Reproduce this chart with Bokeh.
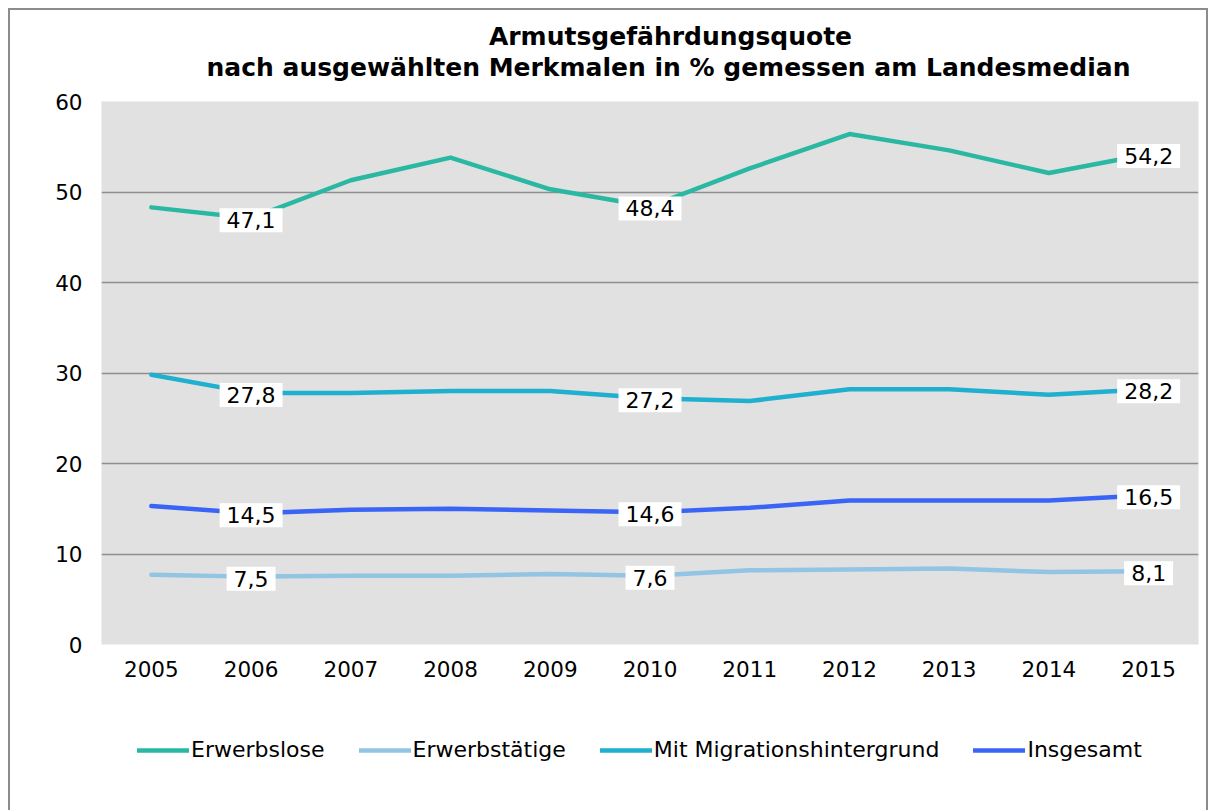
from bokeh.plotting import figure
from bokeh.layouts import column
from bokeh.models import Range1d, FixedTicker, Label, Legend, LegendItem
from bokeh.embed import file_html
from bokeh.resources import INLINE

years = [2005, 2006, 2007, 2008, 2009, 2010, 2011, 2012, 2013, 2014, 2015]
erwerbslose = [48.3, 47.1, 51.3, 53.8, 50.3, 48.4, 52.6, 56.4, 54.6, 52.1, 54.2]
erwerbstaetige = [7.7, 7.5, 7.6, 7.6, 7.8, 7.6, 8.2, 8.3, 8.4, 8.0, 8.1]
migration = [29.8, 27.8, 27.8, 28.0, 28.0, 27.2, 26.9, 28.2, 28.2, 27.6, 28.2]
insgesamt = [15.3, 14.5, 14.9, 15.0, 14.8, 14.6, 15.1, 15.9, 15.9, 15.9, 16.5]
labeled_years = [2006, 2010, 2015]
y_ticks = [0, 10, 20, 30, 40, 50, 60]
title_lines = ["Armutsgefährdungsquote", "nach ausgewählten Merkmalen in % gemessen am Landesmedian"]

series = [
    ("Erwerbslose", erwerbslose, "#2bb8a3"),
    ("Erwerbstätige", erwerbstaetige, "#92c4e4"),
    ("Mit Migrationshintergrund", migration, "#1fafcf"),
    ("Insgesamt", insgesamt, "#3a64f5"),
]

FONT = "DejaVu Sans"
W = 1196
BL, BR = 91, 8   # shared left/right borders so every strip has the same frame


def strip(height):
    # frame spans page x 101..1198; x range expressed in page pixels
    f = figure(width=W, height=height, output_backend="svg", toolbar_location=None,
               x_range=Range1d(101, 1198), y_range=Range1d(0, height),
               x_axis_location=None, y_axis_location=None,
               min_border_left=BL, min_border_right=BR, min_border_top=0, min_border_bottom=0)
    f.xgrid.grid_line_color = None
    f.ygrid.grid_line_color = None
    f.outline_line_color = None
    f.background_fill_color = "white"
    f.border_fill_color = "white"
    return f


# ---- title strip ----
pt = strip(79)
for txt, (cx, cy) in zip(title_lines, [(670, 53), (668, 22)]):
    pt.add_layout(Label(x=cx, y=cy, text=txt, text_align="center", text_baseline="middle",
                        text_font=FONT, text_font_size="25px", text_font_style="bold",
                        text_color="black"))

# ---- main chart ----
p = figure(width=W, height=605, output_backend="svg", toolbar_location=None,
           x_range=Range1d(2004.5, 2015.5), y_range=Range1d(0, 60),
           min_border_left=BL, min_border_top=12, min_border_right=BR, min_border_bottom=50)
p.background_fill_color = "#e1e1e1"
p.border_fill_color = "white"
p.outline_line_color = None

p.xaxis.ticker = FixedTicker(ticks=years)
p.yaxis.ticker = FixedTicker(ticks=y_ticks)
for ax in (p.xaxis, p.yaxis):
    ax.axis_line_color = None
    ax.major_tick_line_color = None
    ax.minor_tick_line_color = None
    ax.major_tick_out = 0
    ax.major_tick_in = 0
    ax.major_label_text_font = FONT
    ax.major_label_text_font_size = "21.5px"
    ax.major_label_text_color = "black"
p.xaxis.major_label_standoff = 16
p.yaxis.major_label_standoff = 19
p.xgrid.grid_line_color = None
p.ygrid.grid_line_color = "#8f8f8f"
p.ygrid.grid_line_width = 1.5

for name, vals, col in series:
    p.line(years, vals, line_color=col, line_width=4.5, line_cap="round", line_join="round")

for name, vals, col in series:
    for yr in labeled_years:
        v = vals[years.index(yr)]
        p.add_layout(Label(x=yr, y=v, text=f"{v:.1f}".replace(".", ","), text_align="center",
                           text_baseline="middle", text_font=FONT, text_font_size="22px",
                           text_color="black", background_fill_color="white",
                           padding=dict(x=7, y=4), y_offset=-2))

# ---- legend strip ----
pl = strip(116)
items = []
for name, vals, col in series:
    # single-point line: draws nothing in the strip, only supplies the legend swatch style
    r = pl.line(x=[years[0]], y=[vals[0]], line_color=col, line_width=4.5, line_cap="round")
    items.append(LegendItem(label=name, renderers=[r]))
legend = Legend(items=items, orientation="horizontal", location=(36, 48),
                label_text_font=FONT, label_text_font_size="22px", label_text_color="black",
                glyph_width=52, glyph_height=24, label_height=24, label_standoff=2, spacing=34,
                padding=0, margin=0, border_line_color=None, background_fill_alpha=0)
pl.add_layout(legend, "center")

layout = column(pt, p, pl, spacing=0,
                styles={"border-top": "2px solid #8c8c8c", "border-left": "2px solid #8c8c8c",
                        "border-right": "2px solid #8c8c8c", "margin": "8px 8px 0px 8px"})

open("out.html", "w").write(file_html(layout, INLINE))
